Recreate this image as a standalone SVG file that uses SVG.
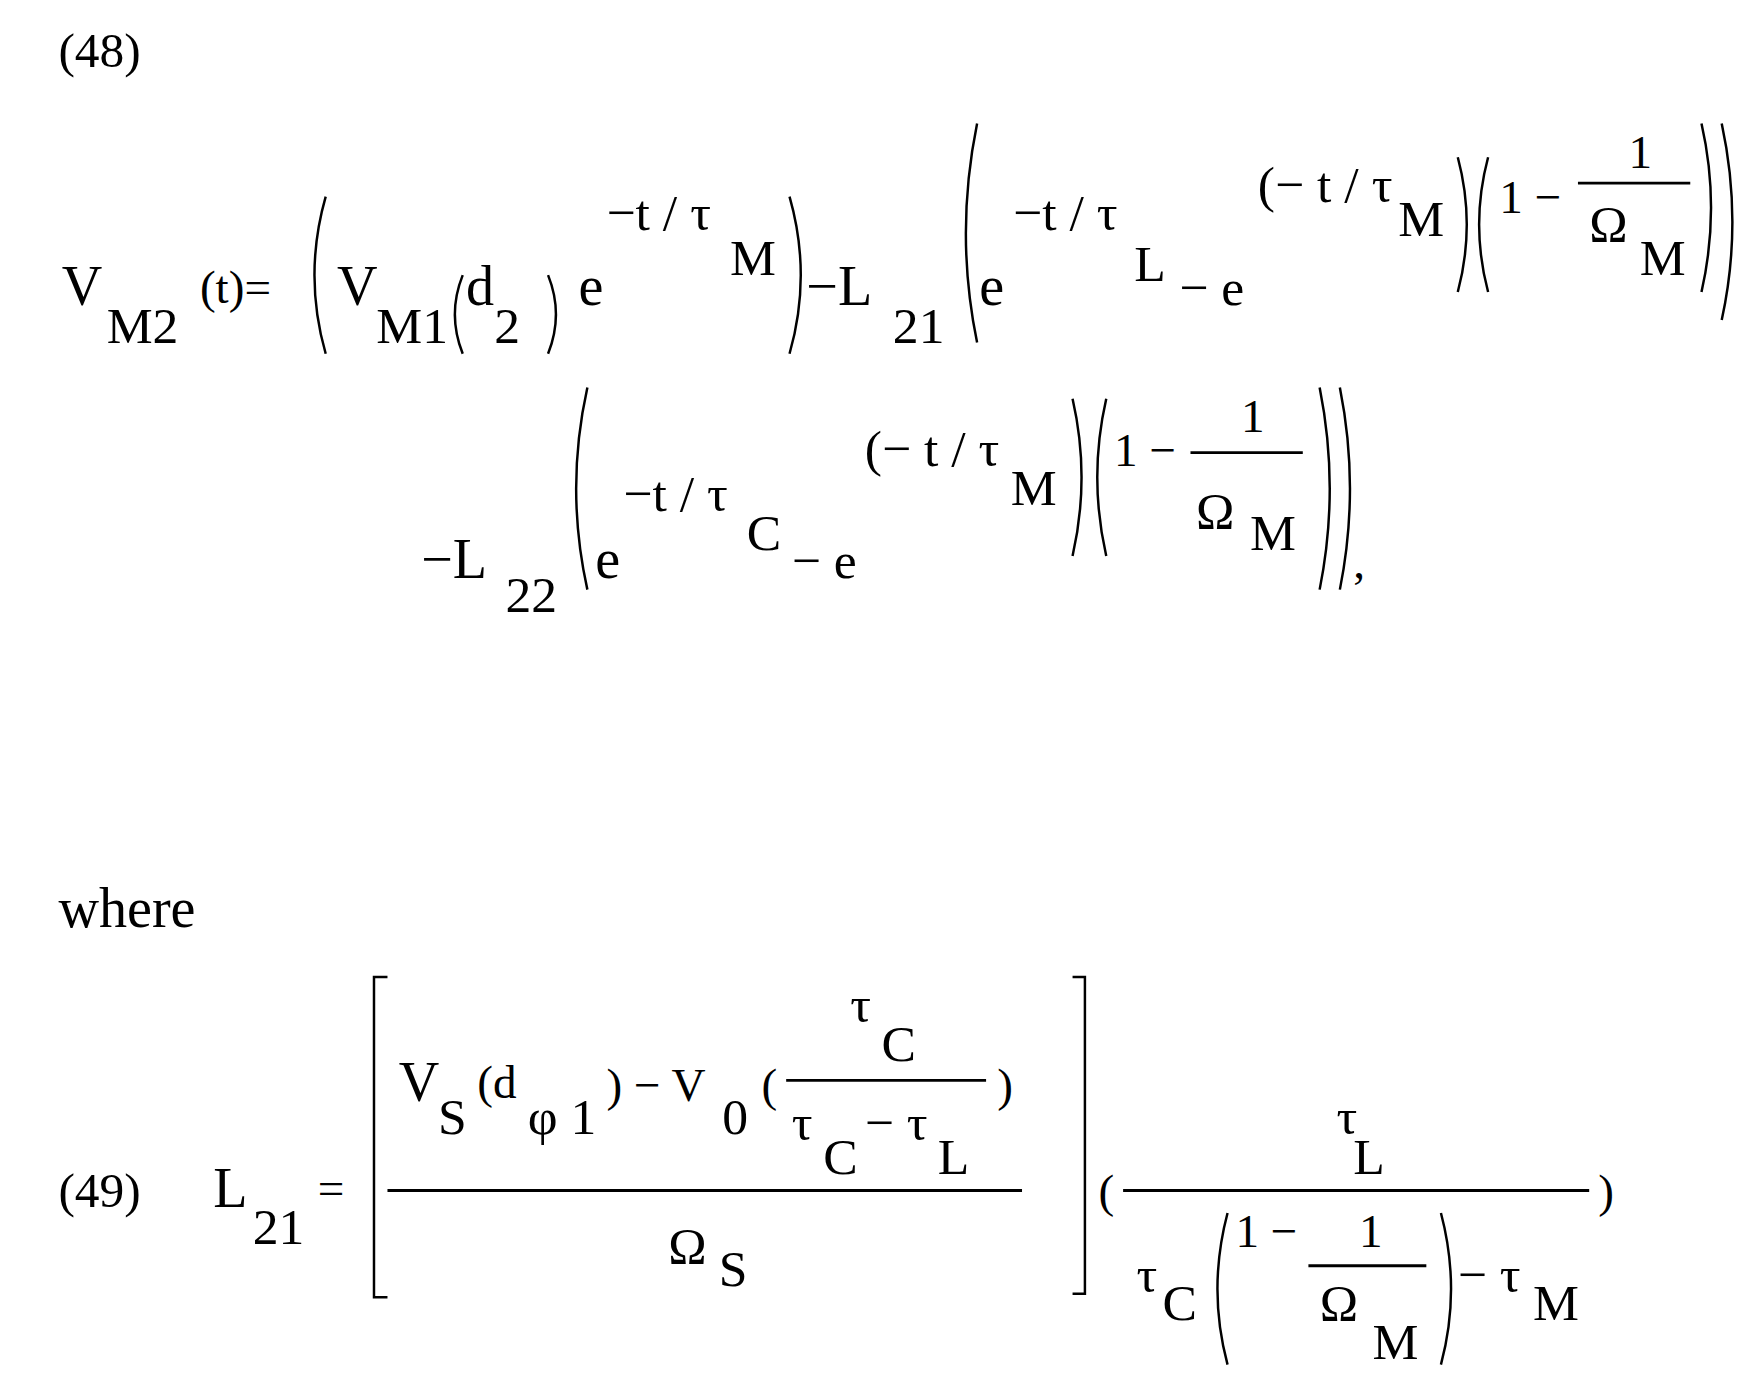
<svg xmlns="http://www.w3.org/2000/svg" width="1752" height="1396" viewBox="0 0 1752 1396">
<style>
text{font-family:"Liberation Serif","DejaVu Serif",serif;fill:#000;font-size:50px}
.s{font-size:46px}
.m{font-size:42px}
.p{fill:none;stroke:#000;stroke-width:2.2}
.f{stroke:#000;stroke-width:2.5}
</style>
<rect width="1752" height="1396" fill="#fff"/>
<g transform="scale(1.1231)">
<g id="eq48">
<text x="52" y="60" class="m" style="font-size:44px">(48)</text>
<text x="55" y="272">V</text><text x="95" y="305" class="s">M2</text>
<text x="178" y="270" class="m">(t)=</text>
<path class="p" d="M290 175 Q270 245 290 315"/>
<text x="300" y="272">V</text><text x="335" y="305" class="s">M1</text>
<path class="p" d="M412 245 Q398 280 412 315"/>
<text x="415" y="272">d</text><text x="440" y="305" class="s">2</text>
<path class="p" d="M488 245 Q502 280 488 315"/>
<text x="515" y="272">e</text>
<text x="540" y="205" class="s">−t / τ</text><text x="650" y="245" class="s">M</text>
<path class="p" d="M703 175 Q723 245 703 315"/>
<text x="718" y="272">−L</text><text x="795" y="305" class="s">21</text>
<path class="p" d="M870 110 Q850 208 870 305"/>
<text x="872" y="272">e</text>
<text x="902" y="205" class="s">−t / τ</text><text x="1010" y="250" class="s">L</text>
<text x="1050" y="272" class="s">− e</text>
<text x="1120" y="180" class="s">(− t / τ</text><text x="1245" y="210" class="s">M</text>
<path class="p" d="M1298 140 Q1314 200 1298 260"/>
<path class="p" d="M1325 140 Q1309 200 1325 260"/>
<text x="1335" y="190" class="m">1 −</text>
<line class="f" x1="1405" y1="163" x2="1505" y2="163"/>
<text x="1450" y="150" class="m">1</text>
<text x="1415" y="215" class="s">Ω</text><text x="1460" y="245" class="s">M</text>
<path class="p" d="M1515 110 Q1532 185 1515 260"/>
<path class="p" d="M1533 110 Q1552 198 1533 285"/>
<text x="375" y="515">−L</text><text x="450" y="545" class="s">22</text>
<path class="p" d="M523 345 Q503 435 523 525"/>
<text x="530" y="515">e</text>
<text x="555" y="455" class="s">−t / τ</text><text x="665" y="490" class="s">C</text>
<text x="705" y="515" class="s">− e</text>
<text x="770" y="415" class="s">(− t / τ</text><text x="900" y="450" class="s">M</text>
<path class="p" d="M955 355 Q971 425 955 495"/>
<path class="p" d="M985 355 Q969 425 985 495"/>
<text x="992" y="415" class="m">1 −</text>
<line class="f" x1="1060" y1="403" x2="1160" y2="403"/>
<text x="1105" y="385" class="m">1</text>
<text x="1065" y="470" class="s">Ω</text><text x="1113" y="490" class="s">M</text>
<path class="p" d="M1175 345 Q1193 435 1175 525"/>
<path class="p" d="M1193 345 Q1211 435 1193 525"/>
<text x="1205" y="515" class="m">,</text>
</g>
<g id="where"><text x="52" y="825" style="font-size:50px">where</text></g>
<g id="eq49">
<text x="52" y="1075" class="m" style="font-size:44px">(49)</text>
<text x="190" y="1075">L</text><text x="225" y="1108" class="s">21</text>
<text x="283" y="1072" class="m">=</text>
<polyline class="p" points="345,870 333,870 333,1155 345,1155"/>
<line class="f" x1="345" y1="1060" x2="910" y2="1060"/>
<text x="355" y="980">V</text><text x="390" y="1010" class="s">S</text>
<text x="425" y="978" class="m">(d</text><text x="470" y="1010" class="s">φ 1</text>
<text x="540" y="980" class="m">) − V</text><text x="643" y="1010" class="s">0</text>
<text x="678" y="980" class="m">(</text>
<line class="f" x1="700" y1="962" x2="878" y2="962"/>
<text x="757" y="910" class="s">τ</text><text x="785" y="945" class="s">C</text>
<text x="705" y="1015" class="s">τ</text><text x="733" y="1045" class="s">C</text>
<text x="770" y="1015" class="s">− τ</text><text x="835" y="1045" class="s">L</text>
<text x="888" y="980" class="m">)</text>
<text x="595" y="1125" class="s">Ω</text><text x="640" y="1145" class="s">S</text>
<polyline class="p" points="955,870 966,870 966,1152 955,1152"/>
<text x="978" y="1075" class="m">(</text>
<line class="f" x1="1000" y1="1060" x2="1415" y2="1060"/>
<text x="1190" y="1010" class="s">τ</text><text x="1205" y="1045" class="s">L</text>
<text x="1012" y="1150" class="s">τ</text><text x="1035" y="1175" class="s">C</text>
<path class="p" d="M1093 1080 Q1075 1148 1093 1215"/>
<text x="1100" y="1110" class="m">1 −</text>
<line class="f" x1="1165" y1="1127" x2="1270" y2="1127"/>
<text x="1210" y="1110" class="m">1</text>
<text x="1175" y="1175" class="s">Ω</text><text x="1222" y="1210" class="s">M</text>
<path class="p" d="M1283 1080 Q1301 1148 1283 1215"/>
<text x="1298" y="1150" class="s">− τ</text><text x="1365" y="1175" class="s">M</text>
<text x="1423" y="1075" class="m">)</text>
</g>
</g>
</svg>
